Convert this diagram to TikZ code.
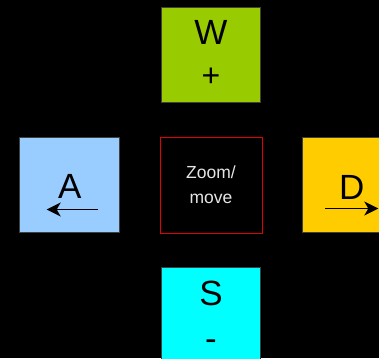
\documentclass[tikz,border=0pt]{standalone}
\usepackage{fontspec}
\setmainfont{Liberation Sans}
\usetikzlibrary{positioning, arrows.meta}
\definecolor{wgreen}{HTML}{99CC00}
\definecolor{ablue}{HTML}{99CCFF}
\definecolor{dyellow}{HTML}{FFCC00}
\definecolor{scyan}{HTML}{00FFFF}
\begin{document}
\begin{tikzpicture}[x=1pt,y=-1pt,
					keybox/.style={draw=black!75, line width=0.6pt, minimum width=99pt, minimum height=95pt, inner sep=0pt, outer sep=0pt},
					letter/.style={font=\fontsize{35}{35}\selectfont, inner sep=0pt},
					movearrow/.style={line width=1.4pt, -{Stealth[length=14pt,width=14pt,inset=4pt]}}
					]
					\fill[black] (0,0) rectangle (379,358);
					\clip (0,0) rectangle (379,358);
					\node[draw=red!90!black, line width=0.6pt, minimum width=102pt, minimum height=96pt, inner sep=0pt,
						text=black!10, align=center, font=\fontsize{17.5}{25}\selectfont] (zoom) at (211,185) {Zoom/\\move};
					\node[keybox, fill=wgreen, above=34pt of zoom] (w) {};
					\node[keybox, fill=scyan, below=34pt of zoom] (s) {};
					\node[keybox, fill=ablue, minimum width=100pt, left=40pt of zoom] (a) {};
					\node[keybox, fill=dyellow, right=40pt of zoom] (d) {};
					\node[letter] (wl) at ([yshift=22.5pt]w.center) {W};
					\node[letter, font=\fontsize{32}{32}\selectfont] (wp) at ([yshift=-22pt]w.center) {+};
					\node[letter] (sl) at ([yshift=21.5pt]s.center) {S};
					\node[letter] (sm) at ([yshift=-30pt]s.center) {-};
					\node[letter] (al) at ([yshift=-1pt]a.center) {A};
					\node[letter] (dl) at ([yshift=-2.5pt]d.center) {D};
					\coordinate (a1) at ([xshift=28pt,yshift=-24.5pt]a.center);
					\coordinate (a2) at ([xshift=-23pt,yshift=-24.5pt]a.center);
					\coordinate (d1) at ([xshift=-26.5pt,yshift=-23.5pt]d.center);
					\coordinate (d2) at ([xshift=26.5pt,yshift=-23.5pt]d.center);
					\draw[movearrow] (a1) -- (a2);
					\draw[movearrow] (d1) -- (d2);
				\end{tikzpicture}
\end{document}
